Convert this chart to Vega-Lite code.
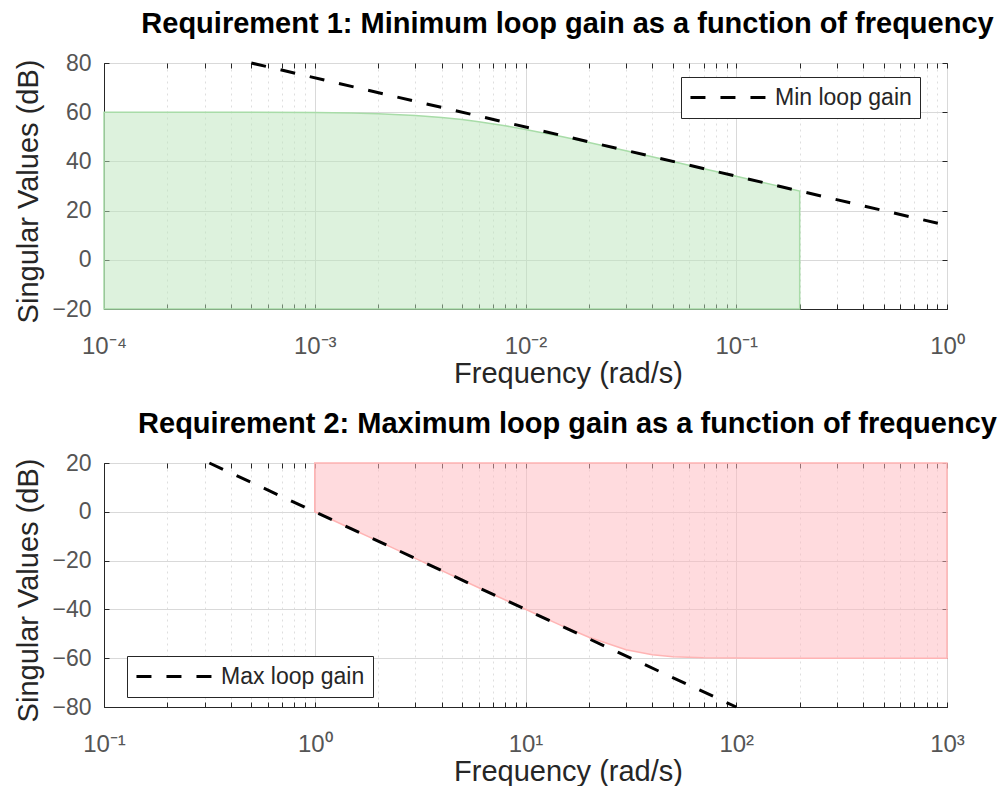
{
  "$schema": "https://vega.github.io/schema/vega-lite/v6.json",
  "background": "white",
  "padding": {"left": 13, "top": 9, "right": 0, "bottom": 0},
  "bounds": "flush",
  "spacing": 154,
  "config": {
    "font": "Liberation Sans",
    "view": {"stroke": "#262626", "strokeWidth": 1},
    "axis": {
      "domainColor": "#262626",
      "tickColor": "#262626",
      "labelColor": "#555555",
      "labelFontSize": 23,
      "titleColor": "#262626",
      "titleFontSize": 29,
      "titleFontWeight": "normal",
      "labelOverlap": false,
      "labelFlush": false
    },
    "legend": {
      "orient": "none",
      "strokeColor": "#262626",
      "fillColor": "white",
      "padding": 8,
      "cornerRadius": 0,
      "symbolType": "M-3.64,0H3.64",
      "symbolSize": 484,
      "symbolOffset": 29,
      "symbolStrokeWidth": 3,
      "symbolStrokeColor": "black",
      "labelFontSize": 23,
      "labelColor": "#262626",
      "labelOffset": 32,
      "title": null
    }
  },
  "resolve": {
    "scale": {"x": "independent", "y": "independent", "strokeDash": "independent"},
    "legend": {"strokeDash": "independent"}
  },
  "vconcat": [
    {
      "width": 843,
      "height": 246,
      "title": {"text": "Requirement 1: Minimum loop gain as a function of frequency", "fontSize": 29, "fontWeight": "bold", "color": "black", "baseline": "alphabetic", "frame": "group", "offset": -10, "dx": 42, "anchor": "middle"},
      "resolve": {"axis": {"x": "independent", "y": "independent"}},
      "layer": [
        {
          "data": {"values": [
            {"w": 0.0001, "g": 60.0}, {"w": 0.0002, "g": 59.99}, {"w": 0.0005, "g": 59.96},
            {"w": 0.001, "g": 59.83}, {"w": 0.0015, "g": 59.63}, {"w": 0.002, "g": 59.36},
            {"w": 0.003, "g": 58.66}, {"w": 0.004, "g": 57.85}, {"w": 0.005, "g": 56.99},
            {"w": 0.006, "g": 56.13}, {"w": 0.008, "g": 54.49}, {"w": 0.01, "g": 53.01},
            {"w": 0.015, "g": 50.0}, {"w": 0.02, "g": 47.7}, {"w": 0.03, "g": 44.32},
            {"w": 0.05, "g": 39.96}, {"w": 0.1, "g": 33.97}, {"w": 0.2, "g": 27.96}
          ]},
          "mark": {"type": "area", "fill": "#bbe5bb", "fillOpacity": 0.5, "stroke": "#a8dca8", "strokeWidth": 1.5},
          "encoding": {
            "x": {
              "field": "w", "type": "quantitative",
              "scale": {"type": "log", "domain": [0.0001, 1], "nice": false},
              "axis": {
                "orient": "bottom",
                "values": [0.0001, 0.0002, 0.0003, 0.0004, 0.0005, 0.0006, 0.0007, 0.0008, 0.0009, 0.001, 0.002, 0.003, 0.004, 0.005, 0.006, 0.007, 0.008, 0.009, 0.01, 0.02, 0.03, 0.04, 0.05, 0.06, 0.07, 0.08, 0.09, 0.1, 0.2, 0.3, 0.4, 0.5, 0.6, 0.7, 0.8, 0.9, 1],
                "labelExpr": "datum.value == 0.0001 ? '10⁻⁴' : datum.value == 0.001 ? '10⁻³' : datum.value == 0.01 ? '10⁻²' : datum.value == 0.1 ? '10⁻¹' : datum.value == 1 ? '10⁰' : ''",
                "labelFontSize": 24,
                "grid": true,
                "gridColor": {"condition": {"test": "abs(log(datum.value)/LN10 - round(log(datum.value)/LN10)) < 0.001", "value": "#d9d9d9"}, "value": "#dedede"},
                "gridDash": {"condition": {"test": "abs(log(datum.value)/LN10 - round(log(datum.value)/LN10)) < 0.001", "value": []}, "value": [2, 4]},
                "tickSize": -5,
                "labelBaseline": "alphabetic",
                "labelPadding": 49,
                "title": "Frequency (rad/s)",
                "titleX": 464,
                "titleY": 73,
                "titleBaseline": "alphabetic"
              }
            },
            "y": {
              "field": "g", "type": "quantitative",
              "scale": {"domain": [-20, 80], "nice": false, "zero": false},
              "axis": {
                "orient": "left",
                "values": [-20, 0, 20, 40, 60, 80],
                "grid": true,
                "gridColor": "#d9d9d9",
                "tickSize": -5,
                "labelBaseline": "middle",
                "labelPadding": 18,
                "title": "Singular Values (dB)",
                "titleX": -67,
                "titleY": 128,
                "titleBaseline": "alphabetic"
              }
            },
            "y2": {"datum": -20}
          }
        },
        {
          "data": {"values": [
            {"w": 0.0005, "g": 80, "series": "Min loop gain"},
            {"w": 1, "g": 13.98, "series": "Min loop gain"}
          ]},
          "mark": {"type": "line", "color": "black", "strokeWidth": 3},
          "encoding": {
            "x": {
              "field": "w", "type": "quantitative",
              "scale": {"type": "log", "domain": [0.0001, 1], "nice": false},
              "axis": {"orient": "top", "values": [0.0001, 0.0002, 0.0003, 0.0004, 0.0005, 0.0006, 0.0007, 0.0008, 0.0009, 0.001, 0.002, 0.003, 0.004, 0.005, 0.006, 0.007, 0.008, 0.009, 0.01, 0.02, 0.03, 0.04, 0.05, 0.06, 0.07, 0.08, 0.09, 0.1, 0.2, 0.3, 0.4, 0.5, 0.6, 0.7, 0.8, 0.9, 1], "labels": false, "grid": false, "domain": false, "tickSize": -5, "title": null}
            },
            "y": {
              "field": "g", "type": "quantitative",
              "scale": {"domain": [-20, 80], "nice": false, "zero": false},
              "axis": {"orient": "right", "values": [-20, 0, 20, 40, 60, 80], "labels": false, "grid": false, "domain": false, "tickSize": -5, "title": null}
            },
            "strokeDash": {
              "field": "series", "type": "nominal",
              "scale": {"domain": ["Min loop gain"], "range": [[15, 15]]},
              "legend": {"legendX": 577, "legendY": 14}
            }
          }
        }
      ]
    },
    {
      "width": 843,
      "height": 244,
      "title": {"text": "Requirement 2: Maximum loop gain as a function of frequency", "fontSize": 29, "fontWeight": "bold", "color": "black", "baseline": "alphabetic", "frame": "group", "offset": -10, "dx": 42, "anchor": "middle"},
      "resolve": {"axis": {"x": "independent", "y": "independent"}},
      "layer": [
        {
          "data": {"values": [
            {"w": 1, "g": 0.0}, {"w": 1.5, "g": -7.04}, {"w": 2, "g": -12.04},
            {"w": 3, "g": -19.08}, {"w": 5, "g": -27.96}, {"w": 7, "g": -33.79},
            {"w": 10, "g": -39.96}, {"w": 15, "g": -46.83}, {"w": 20, "g": -51.4},
            {"w": 30, "g": -56.51}, {"w": 40, "g": -58.57}, {"w": 50, "g": -59.36},
            {"w": 70, "g": -59.82}, {"w": 100, "g": -59.96}, {"w": 200, "g": -60.0},
            {"w": 1000, "g": -60.0}
          ]},
          "mark": {"type": "area", "fill": "#ffb7bd", "fillOpacity": 0.5, "stroke": "#ffb4b4", "strokeWidth": 1.5},
          "encoding": {
            "x": {
              "field": "w", "type": "quantitative",
              "scale": {"type": "log", "domain": [0.1, 1000], "nice": false},
              "axis": {
                "orient": "bottom",
                "values": [0.1, 0.2, 0.3, 0.4, 0.5, 0.6, 0.7, 0.8, 0.9, 1, 2, 3, 4, 5, 6, 7, 8, 9, 10, 20, 30, 40, 50, 60, 70, 80, 90, 100, 200, 300, 400, 500, 600, 700, 800, 900, 1000],
                "labelExpr": "datum.value == 0.1 ? '10⁻¹' : datum.value == 1 ? '10⁰' : datum.value == 10 ? '10¹' : datum.value == 100 ? '10²' : datum.value == 1000 ? '10³' : ''",
                "labelFontSize": 24,
                "grid": true,
                "gridColor": {"condition": {"test": "abs(log(datum.value)/LN10 - round(log(datum.value)/LN10)) < 0.001", "value": "#d9d9d9"}, "value": "#dedede"},
                "gridDash": {"condition": {"test": "abs(log(datum.value)/LN10 - round(log(datum.value)/LN10)) < 0.001", "value": []}, "value": [2, 4]},
                "tickSize": -5,
                "labelBaseline": "alphabetic",
                "labelPadding": 49,
                "title": "Frequency (rad/s)",
                "titleX": 464,
                "titleY": 73,
                "titleBaseline": "alphabetic"
              }
            },
            "y": {
              "field": "g", "type": "quantitative",
              "scale": {"domain": [-80, 20], "nice": false, "zero": false},
              "axis": {
                "orient": "left",
                "values": [-80, -60, -40, -20, 0, 20],
                "grid": true,
                "gridColor": "#d9d9d9",
                "tickSize": -5,
                "labelBaseline": "middle",
                "labelPadding": 18,
                "title": "Singular Values (dB)",
                "titleX": -67,
                "titleY": 127,
                "titleBaseline": "alphabetic"
              }
            },
            "y2": {"datum": 20}
          }
        },
        {
          "data": {"values": [
            {"w": 0.3162, "g": 20, "series": "Max loop gain"},
            {"w": 100, "g": -80, "series": "Max loop gain"}
          ]},
          "mark": {"type": "line", "color": "black", "strokeWidth": 3},
          "encoding": {
            "x": {
              "field": "w", "type": "quantitative",
              "scale": {"type": "log", "domain": [0.1, 1000], "nice": false},
              "axis": {"orient": "top", "values": [0.1, 0.2, 0.3, 0.4, 0.5, 0.6, 0.7, 0.8, 0.9, 1, 2, 3, 4, 5, 6, 7, 8, 9, 10, 20, 30, 40, 50, 60, 70, 80, 90, 100, 200, 300, 400, 500, 600, 700, 800, 900, 1000], "labels": false, "grid": false, "domain": false, "tickSize": -5, "title": null}
            },
            "y": {
              "field": "g", "type": "quantitative",
              "scale": {"domain": [-80, 20], "nice": false, "zero": false},
              "axis": {"orient": "right", "values": [-80, -60, -40, -20, 0, 20], "labels": false, "grid": false, "domain": false, "tickSize": -5, "title": null}
            },
            "strokeDash": {
              "field": "series", "type": "nominal",
              "scale": {"domain": ["Max loop gain"], "range": [[15, 15]]},
              "legend": {"legendX": 23, "legendY": 193}
            }
          }
        }
      ]
    }
  ]
}
